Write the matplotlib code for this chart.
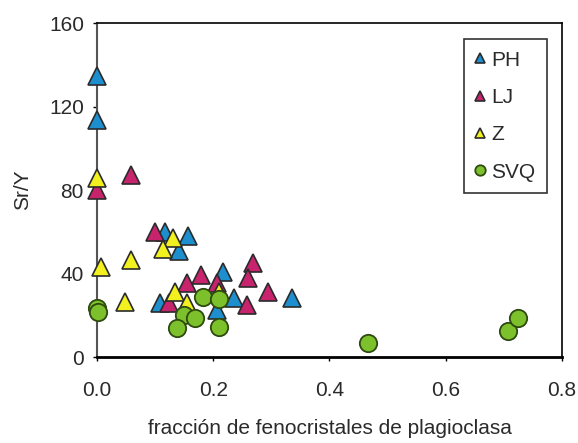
import matplotlib.pyplot as plt

plt.rcParams['font.family'] = ['Liberation Sans', 'DejaVu Sans']

# PH
ph_x = [0.0, 0.0, 0.117, 0.157, 0.141, 0.108, 0.216, 0.235, 0.335, 0.206]
ph_y = [134.5, 113.5, 60.0, 58.0, 51.0, 25.7, 40.9, 28.1, 28.1, 22.5]
# LJ
lj_x = [0.0, 0.058, 0.100, 0.123, 0.154, 0.178, 0.206, 0.268, 0.260, 0.295, 0.258]
lj_y = [80.0, 87.2, 60.0, 25.7, 35.3, 39.3, 35.3, 44.9, 37.7, 31.3, 24.9]
# Z
z_x = [0.0, 0.130, 0.113, 0.058, 0.006, 0.048, 0.134, 0.154, 0.209]
z_y = [85.6, 57.0, 52.0, 46.5, 43.0, 26.5, 31.3, 25.7, 31.3]
# SVQ
svq_x = [0.0, 0.002, 0.182, 0.209, 0.150, 0.169, 0.137, 0.209, 0.467, 0.707, 0.725]
svq_y = [23.3, 21.7, 28.9, 27.6, 20.1, 18.5, 13.7, 14.5, 6.5, 12.5, 18.5]

fig = plt.figure(figsize=(5.78, 4.43), dpi=100)
ax = fig.add_axes([0.168, 0.194, 0.804, 0.754])

edge = '#2b2b2b'
ax.plot(ph_x, ph_y, '^', ms=12.5, mfc='#1d8fcf', mec=edge, mew=1.2, label='PH', clip_on=False, zorder=3)
ax.plot(lj_x, lj_y, '^', ms=12.5, mfc='#c8246e', mec=edge, mew=1.2, label='LJ', clip_on=False, zorder=3)
ax.plot(z_x, z_y, '^', ms=12.5, mfc='#f2f01e', mec=edge, mew=1.2, label='Z', clip_on=False, zorder=3)
ax.plot(svq_x, svq_y, 'o', ms=12.5, mfc='#7cc02c', mec='#2f4a10', mew=1.3, label='SVQ', clip_on=False, zorder=4)

ax.set_xlim(0, 0.8)
ax.set_ylim(0, 160)
ax.set_xticks([0, 0.2, 0.4, 0.6, 0.8])
ax.set_xticklabels(['0.0', '0.2', '0.4', '0.6', '0.8'])
ax.set_yticks([0, 40, 80, 120, 160])
ax.tick_params(labelsize=15, length=3, width=1, labelcolor='#2a2a2a')
ax.tick_params(axis='x', pad=14)
ax.tick_params(axis='y', pad=6.5)

for s in ['top', 'right']:
    ax.spines[s].set_linewidth(1.2)
ax.spines['left'].set_color('#555555')
ax.spines['left'].set_linewidth(1.5)
ax.spines['bottom'].set_linewidth(2)

ax.set_xlabel('fracción de fenocristales de plagioclasa', fontsize=15, color='#2a2a2a', labelpad=14)
ax.set_ylabel('Sr/Y', fontsize=15, color='#2a2a2a', labelpad=12)

leg = ax.legend(loc='upper right', bbox_to_anchor=(0.968, 0.952), fontsize=15,
                markerscale=0.6, handlelength=0.4, handletextpad=0.35,
                labelspacing=0.88, borderpad=0.55, borderaxespad=0, fancybox=False,
                edgecolor='#333333', framealpha=1)
leg.get_frame().set_linewidth(1.2)
for t in leg.get_texts():
    t.set_color('#2a2a2a')

fig.savefig('out.png', dpi=100)
